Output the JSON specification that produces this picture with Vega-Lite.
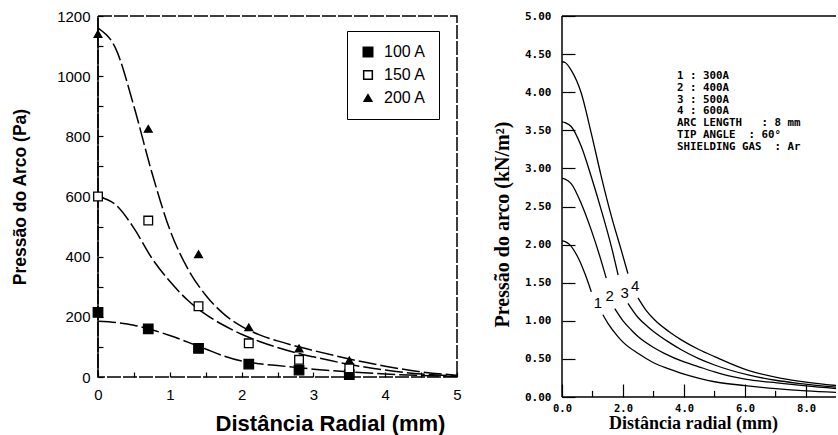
{
  "$schema": "https://vega.github.io/schema/vega-lite/v6.json",
  "background": "white",
  "padding": {"left": 10, "top": 8, "right": 0, "bottom": 0},
  "spacing": 30,
  "config": {"view": {"stroke": null}},
  "datasets": {
    "frame": [{"edge": "frame"}],
    "curvesL": [
      {"series": "200 A", "r": 0, "p": 1160}, {"series": "200 A", "r": 0.25, "p": 1090}, {"series": "200 A", "r": 0.5, "p": 900},
      {"series": "200 A", "r": 0.75, "p": 680}, {"series": "200 A", "r": 1.0, "p": 490}, {"series": "200 A", "r": 1.25, "p": 360},
      {"series": "200 A", "r": 1.5, "p": 272}, {"series": "200 A", "r": 1.75, "p": 210}, {"series": "200 A", "r": 2.0, "p": 168},
      {"series": "200 A", "r": 2.25, "p": 140}, {"series": "200 A", "r": 2.5, "p": 120}, {"series": "200 A", "r": 2.75, "p": 103},
      {"series": "200 A", "r": 3.0, "p": 88}, {"series": "200 A", "r": 3.5, "p": 60}, {"series": "200 A", "r": 4.0, "p": 36},
      {"series": "200 A", "r": 4.5, "p": 17}, {"series": "200 A", "r": 5.0, "p": 6},
      {"series": "150 A", "r": 0, "p": 600}, {"series": "150 A", "r": 0.25, "p": 572}, {"series": "150 A", "r": 0.5, "p": 495},
      {"series": "150 A", "r": 0.75, "p": 395}, {"series": "150 A", "r": 1.0, "p": 318}, {"series": "150 A", "r": 1.25, "p": 255},
      {"series": "150 A", "r": 1.5, "p": 208}, {"series": "150 A", "r": 1.75, "p": 172}, {"series": "150 A", "r": 2.0, "p": 142},
      {"series": "150 A", "r": 2.25, "p": 118}, {"series": "150 A", "r": 2.5, "p": 98}, {"series": "150 A", "r": 2.75, "p": 81},
      {"series": "150 A", "r": 3.0, "p": 67}, {"series": "150 A", "r": 3.5, "p": 42}, {"series": "150 A", "r": 4.0, "p": 23},
      {"series": "150 A", "r": 4.5, "p": 10}, {"series": "150 A", "r": 5.0, "p": 3},
      {"series": "100 A", "r": 0, "p": 185}, {"series": "100 A", "r": 0.25, "p": 181}, {"series": "100 A", "r": 0.5, "p": 172},
      {"series": "100 A", "r": 0.75, "p": 157}, {"series": "100 A", "r": 1.0, "p": 138}, {"series": "100 A", "r": 1.25, "p": 116},
      {"series": "100 A", "r": 1.5, "p": 93}, {"series": "100 A", "r": 1.75, "p": 70}, {"series": "100 A", "r": 2.0, "p": 53},
      {"series": "100 A", "r": 2.25, "p": 44}, {"series": "100 A", "r": 2.5, "p": 38}, {"series": "100 A", "r": 2.75, "p": 32},
      {"series": "100 A", "r": 3.0, "p": 26}, {"series": "100 A", "r": 3.5, "p": 17}, {"series": "100 A", "r": 4.0, "p": 10},
      {"series": "100 A", "r": 4.5, "p": 5}, {"series": "100 A", "r": 5.0, "p": 2}
    ],
    "pointsL": [
      {"series": "100 A", "r": 0, "p": 215}, {"series": "100 A", "r": 0.7, "p": 160}, {"series": "100 A", "r": 1.4, "p": 95},
      {"series": "100 A", "r": 2.1, "p": 43}, {"series": "100 A", "r": 2.8, "p": 23}, {"series": "100 A", "r": 3.5, "p": 8},
      {"series": "150 A", "r": 0, "p": 600}, {"series": "150 A", "r": 0.7, "p": 520}, {"series": "150 A", "r": 1.4, "p": 235},
      {"series": "150 A", "r": 2.1, "p": 112}, {"series": "150 A", "r": 2.8, "p": 57}, {"series": "150 A", "r": 3.5, "p": 29},
      {"series": "200 A", "r": 0, "p": 1140}, {"series": "200 A", "r": 0.7, "p": 825}, {"series": "200 A", "r": 1.4, "p": 408},
      {"series": "200 A", "r": 2.1, "p": 165}, {"series": "200 A", "r": 2.8, "p": 95}, {"series": "200 A", "r": 3.5, "p": 55}
    ],
    "curvesR": [
      {"part": "1a", "d": 0, "v": 2.05}, {"part": "1a", "d": 0.1, "v": 2.04}, {"part": "1a", "d": 0.25, "v": 2.0}, {"part": "1a", "d": 0.5, "v": 1.85},
      {"part": "1a", "d": 0.75, "v": 1.62}, {"part": "1a", "d": 0.96, "v": 1.38},
      {"part": "1b", "d": 1.34, "v": 1.08}, {"part": "1b", "d": 1.5, "v": 0.97}, {"part": "1b", "d": 1.84, "v": 0.79}, {"part": "1b", "d": 2.0, "v": 0.72},
      {"part": "1b", "d": 2.5, "v": 0.57}, {"part": "1b", "d": 3.0, "v": 0.45}, {"part": "1b", "d": 3.5, "v": 0.37}, {"part": "1b", "d": 4.0, "v": 0.3},
      {"part": "1b", "d": 4.5, "v": 0.245}, {"part": "1b", "d": 5.0, "v": 0.2}, {"part": "1b", "d": 6.0, "v": 0.15}, {"part": "1b", "d": 7.0, "v": 0.11},
      {"part": "1b", "d": 8.0, "v": 0.08}, {"part": "1b", "d": 9.0, "v": 0.06},
      {"part": "2a", "d": 0, "v": 2.87}, {"part": "2a", "d": 0.1, "v": 2.86}, {"part": "2a", "d": 0.3, "v": 2.8}, {"part": "2a", "d": 0.63, "v": 2.54},
      {"part": "2a", "d": 0.96, "v": 2.19}, {"part": "2a", "d": 1.29, "v": 1.78}, {"part": "2a", "d": 1.45, "v": 1.56},
      {"part": "2b", "d": 1.73, "v": 1.16}, {"part": "2b", "d": 2.0, "v": 1.0}, {"part": "2b", "d": 2.27, "v": 0.88}, {"part": "2b", "d": 2.5, "v": 0.79},
      {"part": "2b", "d": 3.0, "v": 0.65}, {"part": "2b", "d": 3.37, "v": 0.57}, {"part": "2b", "d": 4.0, "v": 0.46}, {"part": "2b", "d": 4.46, "v": 0.4},
      {"part": "2b", "d": 5.0, "v": 0.33}, {"part": "2b", "d": 5.55, "v": 0.27}, {"part": "2b", "d": 6.0, "v": 0.235}, {"part": "2b", "d": 7.19, "v": 0.18},
      {"part": "2b", "d": 8.0, "v": 0.145}, {"part": "2b", "d": 9.0, "v": 0.11},
      {"part": "3a", "d": 0, "v": 3.61}, {"part": "3a", "d": 0.1, "v": 3.6}, {"part": "3a", "d": 0.3, "v": 3.55}, {"part": "3a", "d": 0.63, "v": 3.29},
      {"part": "3a", "d": 0.96, "v": 2.89}, {"part": "3a", "d": 1.29, "v": 2.45}, {"part": "3a", "d": 1.62, "v": 1.97}, {"part": "3a", "d": 1.84, "v": 1.6},
      {"part": "3b", "d": 2.16, "v": 1.23}, {"part": "3b", "d": 2.5, "v": 1.04}, {"part": "3b", "d": 2.82, "v": 0.92}, {"part": "3b", "d": 3.0, "v": 0.86},
      {"part": "3b", "d": 3.5, "v": 0.72}, {"part": "3b", "d": 3.91, "v": 0.62}, {"part": "3b", "d": 4.5, "v": 0.5}, {"part": "3b", "d": 5.0, "v": 0.42},
      {"part": "3b", "d": 6.1, "v": 0.29}, {"part": "3b", "d": 7.0, "v": 0.22}, {"part": "3b", "d": 7.74, "v": 0.18}, {"part": "3b", "d": 9.0, "v": 0.13},
      {"part": "4a", "d": 0, "v": 4.4}, {"part": "4a", "d": 0.1, "v": 4.39}, {"part": "4a", "d": 0.3, "v": 4.29}, {"part": "4a", "d": 0.63, "v": 3.99},
      {"part": "4a", "d": 0.96, "v": 3.46}, {"part": "4a", "d": 1.29, "v": 2.89}, {"part": "4a", "d": 1.62, "v": 2.37}, {"part": "4a", "d": 1.94, "v": 1.93},
      {"part": "4a", "d": 2.16, "v": 1.62},
      {"part": "4b", "d": 2.49, "v": 1.3}, {"part": "4b", "d": 2.75, "v": 1.14}, {"part": "4b", "d": 3.04, "v": 1.01}, {"part": "4b", "d": 3.5, "v": 0.86},
      {"part": "4b", "d": 3.91, "v": 0.75}, {"part": "4b", "d": 4.5, "v": 0.62}, {"part": "4b", "d": 5.0, "v": 0.53}, {"part": "4b", "d": 6.1, "v": 0.35},
      {"part": "4b", "d": 7.19, "v": 0.245}, {"part": "4b", "d": 8.0, "v": 0.195}, {"part": "4b", "d": 9.0, "v": 0.15}
    ],
    "minorR": [{"d": 1}, {"d": 3}, {"d": 5}, {"d": 7}],
    "labelsR": [
      {"t": "1", "d": 1.18, "v": 1.23}, {"t": "2", "d": 1.56, "v": 1.32},
      {"t": "3", "d": 2.05, "v": 1.36}, {"t": "4", "d": 2.4, "v": 1.46}
    ],
    "noteR": [
      {"t": "1 : 300A\n2 : 400A\n3 : 500A\n4 : 600A\nARC LENGTH\u00a0\u00a0\u00a0: 8 mm\nTIP ANGLE\u00a0\u00a0: 60°\nSHIELDING GAS\u00a0\u00a0: Ar", "d": 3.77, "v": 4.29}
    ]
  },
  "hconcat": [
    {
      "width": 359,
      "height": 361,
      "view": {"stroke": "black", "strokeWidth": 1.5, "strokeDash": [14, 2]},
      "layer": [
        {
          "data": {"name": "curvesL"},
          "mark": {"type": "line", "interpolate": "monotone", "color": "black", "strokeWidth": 1.5, "strokeDash": [18, 4]},
          "encoding": {
            "x": {"field": "r", "type": "quantitative", "scale": {"domain": [0, 5], "nice": false},
              "axis": {"title": "Distância Radial (mm)", "values": [0, 0.5, 1, 1.5, 2, 2.5, 3, 3.5, 4, 4.5, 5], "tickCount": 30,
                "labelExpr": "datum.value % 1 === 0 ? format(datum.value, 'd') : ''", "grid": false, "domain": false, "labelFlush": false,
                "labelOverlap": false, "offset": -5, "tickSize": 5, "tickColor": "black", "tickWidth": 1.2, "labelPadding": 10,
                "labelFont": "Liberation Sans", "labelFontSize": 15, "labelColor": "black",
                "titleFont": "Liberation Sans", "titleFontSize": 22, "titleFontWeight": "bold",
                "titleColor": "black", "titleX": 232, "titleY": 58, "titleBaseline": "alphabetic", "titleAlign": "center"}},
            "y": {"field": "p", "type": "quantitative", "scale": {"domain": [0, 1200], "nice": false},
              "axis": {"title": "Pressão do Arco (Pa)", "values": [0, 100, 200, 300, 400, 500, 600, 700, 800, 900, 1000, 1100, 1200], "tickCount": 30,
                "labelExpr": "datum.value % 200 === 0 ? format(datum.value, 'd') : ''", "grid": false, "domain": false,
                "labelFlush": false, "labelOverlap": false, "offset": -5, "tickSize": 5, "tickColor": "black", "tickWidth": 1.2,
                "labelPadding": 8, "labelFont": "Liberation Sans", "labelFontSize": 15, "labelColor": "black",
                "titleFont": "Liberation Sans", "titleFontSize": 17.5, "titleFontWeight": "bold", "titleColor": "black", "titlePadding": 27}},
            "detail": {"field": "series"}
          }
        },
        {
          "data": {"name": "frame"},
          "mark": {"type": "rule", "color": "black", "strokeWidth": 1.5},
          "encoding": {"x": {"datum": 0, "type": "quantitative"}}
        },
        {
          "data": {"name": "pointsL"},
          "mark": {"type": "point", "filled": false, "stroke": "black", "strokeWidth": 1.3, "opacity": 1},
          "encoding": {
            "x": {"field": "r", "type": "quantitative"},
            "y": {"field": "p", "type": "quantitative"},
            "shape": {"field": "series", "type": "nominal", "scale": {"domain": ["100 A", "150 A", "200 A"], "range": ["square", "square", "triangle-up"]},
              "legend": {"title": null, "orient": "none", "legendX": 249, "legendY": 15, "strokeColor": "black", "padding": 13,
                "labelFont": "Liberation Sans", "labelFontSize": 16, "labelColor": "black", "labelOffset": 8, "rowPadding": 7}},
            "fill": {"field": "series", "type": "nominal", "scale": {"domain": ["100 A", "150 A", "200 A"], "range": ["black", "white", "black"]}},
            "size": {"field": "series", "type": "nominal", "scale": {"domain": ["100 A", "150 A", "200 A"], "range": [90, 60, 45]}}
          }
        }
      ]
    },
    {
      "width": 274,
      "height": 381,
      "layer": [
        {
          "data": {"name": "curvesR"},
          "mark": {"type": "line", "interpolate": "monotone", "color": "black", "strokeWidth": 1.3, "clip": true},
          "encoding": {
            "x": {"field": "d", "type": "quantitative", "scale": {"domain": [0, 8.98], "nice": false},
              "axis": {"title": "Distância radial (mm)", "values": [0, 2, 4, 6, 8], "tickCount": 30, "labelExpr": "format(datum.value, '.1f')",
                "grid": false, "domain": false,
                "labelFlush": false, "labelOverlap": false, "offset": -13, "tickSize": 13, "tickColor": "black", "tickWidth": 1.2,
                "labelPadding": 6, "labelFont": "DejaVu Sans Mono", "labelFontWeight": "bold", "labelFontSize": 10.5, "labelColor": "black",
                "titleFont": "Liberation Serif", "titleFontSize": 18, "titleFontWeight": "bold", "titleColor": "black",
                "titleX": 131, "titleY": 44, "titleBaseline": "alphabetic", "titleAlign": "center"}},
            "y": {"field": "v", "type": "quantitative", "scale": {"domain": [0, 5], "nice": false},
              "axis": {"title": "Pressão do arco (kN/m²)", "values": [0, 0.5, 1, 1.5, 2, 2.5, 3, 3.5, 4, 4.5, 5], "tickCount": 30,
                "labelExpr": "format(datum.value, '.2f')",
                "grid": false, "domain": false, "labelFlush": false, "labelOverlap": false, "offset": -13, "tickSize": 13,
                "tickColor": "black", "tickWidth": 1.2, "labelPadding": 11,
                "labelFont": "DejaVu Sans Mono", "labelFontWeight": "bold", "labelFontSize": 11, "labelColor": "black",
                "titleFont": "Liberation Serif", "titleFontSize": 20, "titleFontWeight": "bold", "titleColor": "black",
                "titlePadding": 12, "titleY": 208}},
            "detail": {"field": "part"}
          }
        },
        {
          "data": {"name": "frame"},
          "mark": {"type": "rule", "color": "black", "strokeWidth": 1.5},
          "encoding": {"y": {"datum": 5, "type": "quantitative"}}
        },
        {
          "data": {"name": "frame"},
          "mark": {"type": "rule", "color": "black", "strokeWidth": 1.5},
          "encoding": {"y": {"datum": 0, "type": "quantitative"}}
        },
        {
          "data": {"name": "frame"},
          "mark": {"type": "rule", "color": "black", "strokeWidth": 1.5},
          "encoding": {"x": {"datum": 0, "type": "quantitative"}}
        },
        {
          "data": {"name": "minorR"},
          "mark": {"type": "rule", "color": "black", "strokeWidth": 1.2},
          "encoding": {
            "x": {"field": "d", "type": "quantitative"},
            "y": {"datum": 0, "type": "quantitative"},
            "y2": {"datum": 0.08}
          }
        },
        {
          "data": {"name": "labelsR"},
          "mark": {"type": "text", "font": "Liberation Sans", "fontSize": 15, "color": "black", "align": "center", "baseline": "middle"},
          "encoding": {
            "x": {"field": "d", "type": "quantitative"},
            "y": {"field": "v", "type": "quantitative"},
            "text": {"field": "t"}
          }
        },
        {
          "data": {"name": "noteR"},
          "mark": {"type": "text", "font": "DejaVu Sans Mono", "fontWeight": "bold", "fontSize": 10.8, "lineHeight": 11.8,
            "lineBreak": "\n", "color": "black", "align": "left", "baseline": "top"},
          "encoding": {
            "x": {"field": "d", "type": "quantitative"},
            "y": {"field": "v", "type": "quantitative"},
            "text": {"field": "t"}
          }
        }
      ]
    }
  ]
}
